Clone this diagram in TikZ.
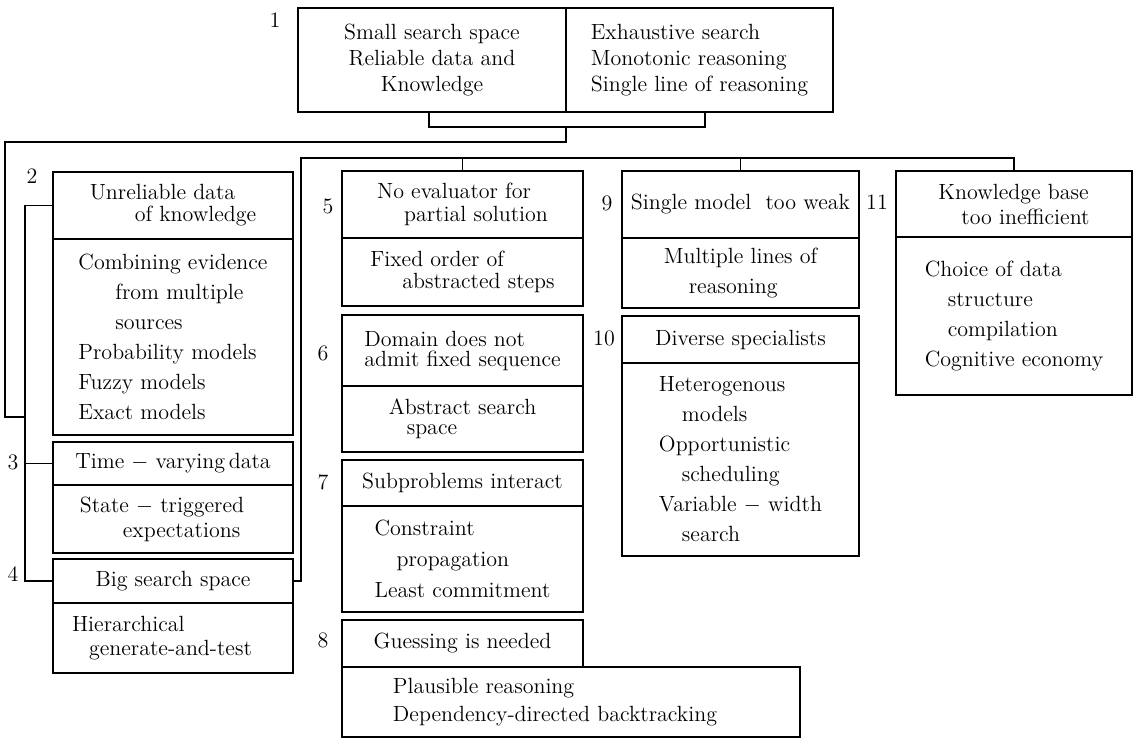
\documentclass[tikz,border=0pt]{standalone}
\usepackage{fontspec}
\usetikzlibrary{positioning}

\begin{document}
\begin{tikzpicture}[x=0.5pt, y=-0.5pt, line width=0.6pt,
  sec/.style={draw, inner sep=2pt, outer sep=0pt, align=left, font=\fontsize{11}{15}\selectfont},
  wh/.style 2 args={minimum width=#1*0.5pt, minimum height=#2*0.5pt},
  lsk/.style={font=\fontsize{11}{#1}\selectfont},
  num/.style={inner sep=0pt, font=\fontsize{11}{13}\selectfont}]
  \useasboundingbox (0,0) rectangle (1137,738);

  % top box
  \node[sec, lsk=13, align=center, wh={268}{104}, anchor=north west] (k1l) at (298,8)
    {Small search space\\Reliable data and\\Knowledge};
  \node[sec, lsk=13, wh={267}{104}, anchor=north west] (k1r) at (566,8)
    {Exhaustive search\\Monotonic reasoning\\Single line of reasoning};

  % left column
  \node[sec, lsk=11, wh={240}{67}, anchor=north west] (h2) at (53,172)
    {Unreliable data\\\hspace*{22.5pt}of knowledge};
  \node[sec, lsk=15, wh={240}{196}, below=0pt of h2] (b2)
    {Combining evidence\\\hspace*{18.5pt}from multiple\\\hspace*{18.5pt}sources\\Probability models\\Fuzzy models\\Exact models};
  \node[sec, wh={240}{43}, anchor=north west] (h3) at (53,442) {Time $-$ varying\,data};
  \node[sec, lsk=12.5, wh={240}{68}, below=0pt of h3] (b3)
    {State $-$ triggered\hspace*{11pt}\\\hspace*{21.5pt}expectations};
  \node[sec, wh={240}{44}, anchor=north west] (h4) at (53,559) {Big search space};
  \node[sec, lsk=12, wh={240}{70}, below=0pt of h4] (b4)
    {Hierarchical\\\hspace*{8.5pt}generate-and-test\hspace*{11pt}};

  % middle column
  \node[sec, lsk=11.5, wh={241}{67}, anchor=north west] (h5) at (342,171)
    {No evaluator for\\\hspace*{13.5pt}partial solution};
  \node[sec, lsk=11, wh={241}{68}, below=0pt of h5] (b5)
    {Fixed order of\\\hspace*{16pt}abstracted steps};
  \node[sec, lsk=10, wh={241}{71}, anchor=north west] (h6) at (342,315)
    {Domain does not\\admit fixed sequence};
  \node[sec, lsk=10, wh={241}{66}, below=0pt of h6] (b6)
    {Abstract search\\\hspace*{9pt}space};
  \node[sec, wh={241}{46}, anchor=north west] (h7) at (342,460) {Subproblems interact};
  \node[sec, lsk=15.5, wh={241}{106}, below=0pt of h7] (b7)
    {Constraint\\\hspace*{11pt}propagation\\Least commitment};
  \node[sec, wh={241}{47}, anchor=north west] (h8) at (342,620) {Guessing is needed};
  \node[sec, lsk=14, wh={458}{70}, anchor=north west] (b8) at (h8.south west)
    {Plausible reasoning\\Dependency-directed backtracking\hspace*{16pt}};

  % right columns
  \node[sec, wh={237}{67}, anchor=north west] (h9) at (622,171) {Single model\ \ too weak};
  \node[sec, lsk=15, wh={237}{70}, below=0pt of h9] (b9)
    {Multiple lines of\\\hspace*{12.5pt}reasoning};
  \node[sec, wh={237}{47}, anchor=north west] (h10) at (622,316) {Diverse specialists};
  \node[sec, lsk=15, wh={237}{193}, below=0pt of h10] (b10)
    {Heterogenous\\\hspace*{11.5pt}models\\Opportunistic\\\hspace*{11.5pt}scheduling\\Variable $-$ width\\\hspace*{11.5pt}search};
  \node[sec, lsk=12.5, wh={236}{66}, anchor=north west] (h11) at (896,171)
    {Knowledge base\\\hspace*{11.5pt}too inefficient};
  \node[sec, lsk=15, wh={236}{158}, below=0pt of h11] (b11)
    {Choice of data\\\hspace*{11.5pt}structure\\\hspace*{11.5pt}compilation\\Cognitive economy};

  % numbers
  \node[num] (n1) at (275,20) {1};
  \node[num] (n2) at (32,176) {2};
  \node[num] (n3) at (13,462) {3};
  \node[num] (n4) at (13,574) {4};
  \node[num] (n5) at (328,206) {5};
  \node[num] (n6) at (323,353) {6};
  \node[num] (n7) at (323,482) {7};
  \node[num] (n8) at (323,640) {8};
  \node[num] (n9) at (607,203) {9};
  \node[num] (n10) at (604,338) {10};
  \node[num] (n11) at (877,202) {11};

  % connectors
  \coordinate (jl) at (429,127);
  \coordinate (jr) at (705,127);
  \coordinate (jm) at (566,127);
  \coordinate (lk) at (5,417);
  \coordinate (spine) at (25,0);
  \coordinate (bus) at (301,158);
  \draw (k1l.south -| jl) -- (jl) -- (jr) -- (k1r.south -| jr);
  \draw (jm) -- ++(0,15) -| (lk) -- (lk -| spine);
  \draw (h2.west) -| (h4.west -| spine) -- (h4.west);
  \draw (h3.west) -- (h3.west -| spine);
  \draw (h4.east) -| (bus) -- (bus -| h11.north) -- (h11.north);
  \draw (bus -| h5.north) -- (h5.north);
  \draw (bus -| h9.north) -- (h9.north);
\end{tikzpicture}
\end{document}
